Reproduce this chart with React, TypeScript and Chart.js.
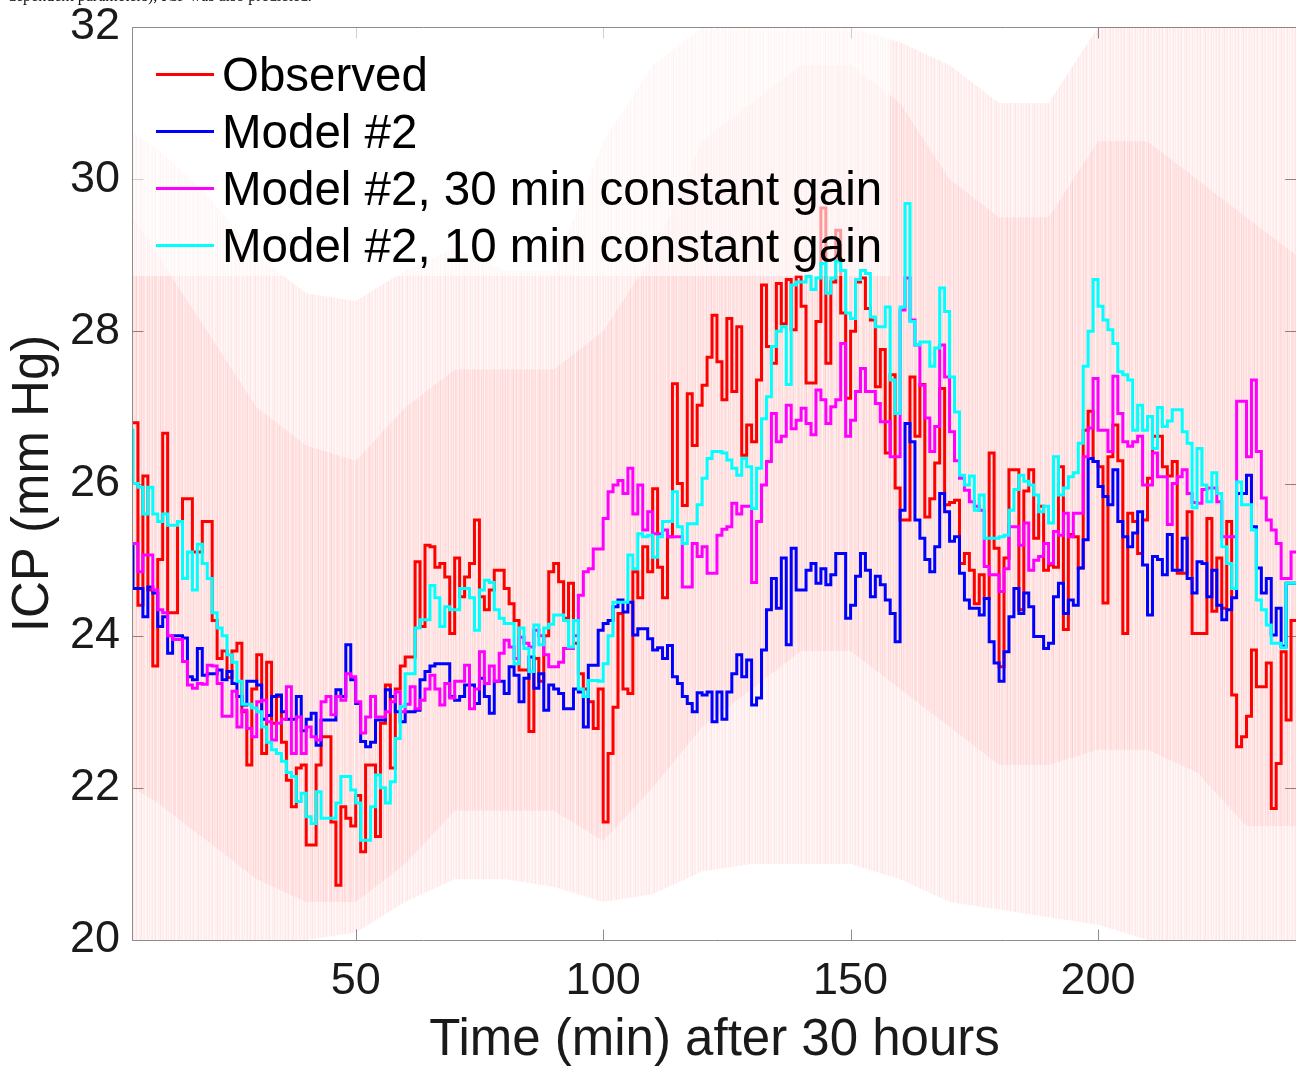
import React, { useEffect, useRef } from 'react';
import { Chart, registerables } from 'chart.js';

Chart.register(...registerables);

// ---------- data (one value per minute, first value is minute 4, last step ends at minute 240) ----------
const START_MINUTE = 4;
const END_MINUTE = 240;

const OBSERVED = [
  26.8, 26.8, 24.4, 26.1, 24.6, 23.6, 25.0, 26.66, 24.3, 24.3,
  25.5, 25.8, 25.8, 25.1, 25.1, 25.5, 25.5, 24.2, 23.7, 23.8,
  23.45, 23.8, 23.9, 23.0, 22.3, 23.3, 23.75, 22.45, 23.65, 22.85,
  23.2, 22.6, 22.1, 21.75, 22.26, 22.3, 21.25, 21.25, 22.3, 22.67,
  22.67, 21.55, 20.72, 21.75, 21.6, 21.5, 21.9, 21.16, 22.3, 22.3,
  21.36, 22.85, 23.35, 22.26, 23.3, 23.6, 23.72, 23.72, 24.97, 24.12,
  25.19, 25.17, 24.9, 24.95, 24.77, 24.03, 25.02, 24.51, 24.77, 24.95,
  25.52, 24.51, 24.34, 24.6, 24.86, 24.86, 24.62, 24.42, 24.2, 23.55,
  23.55, 22.74, 23.7, 23.4, 24.0, 24.84, 24.95, 24.71, 24.23, 24.69,
  23.9, 23.5, 23.3, 23.13, 22.78, 23.3, 21.55, 22.45, 23.06, 24.29,
  23.3, 23.24, 24.84, 24.5, 25.17, 24.84, 25.93, 24.9, 24.5, 25.3,
  27.31, 26.0, 25.71, 27.18, 26.5, 27.03, 27.29, 27.66, 28.21, 27.6,
  27.1, 28.17, 27.21, 28.06, 26.37, 26.77, 26.55, 27.36, 28.61, 27.8,
  27.58, 28.63, 28.1, 28.68, 28.02, 28.72, 28.33, 27.32, 27.32, 28.13,
  29.62, 27.58, 28.65, 29.33, 28.24, 27.12, 28.0, 28.65, 28.7, 28.3,
  28.15, 27.27, 27.76, 26.4, 27.43, 25.94, 25.52, 25.52, 27.4, 26.62,
  27.3, 25.56, 25.8, 26.27, 27.25, 25.72, 25.75, 25.78, 24.95, 25.08,
  24.86, 24.42, 24.8, 24.49, 26.4, 25.15, 23.59, 25.02, 26.18, 26.18,
  24.34, 25.9, 26.18, 25.28, 25.7, 24.86, 24.93, 24.9, 26.22, 24.08,
  25.33, 25.3, 24.89, 26.7, 26.95, 26.29, 26.22, 24.43, 26.35, 26.77,
  26.3, 24.03, 25.61, 25.5, 25.08, 25.52, 26.07, 26.62, 26.62, 26.22,
  26.1, 26.29, 24.82, 24.82, 25.63, 24.03, 24.03, 24.03, 25.54, 24.32,
  25.02, 24.36, 25.5, 23.22, 22.54, 22.67, 22.94, 23.81, 23.33, 23.33,
  23.64, 21.73, 22.32, 23.79, 22.89, 24.2,
];

const MODEL2 = [
  25.2, 24.62, 24.62, 24.25, 24.64, 24.56, 24.12, 24.25, 23.77, 24.0,
  24.0, 23.97, 23.46, 23.42, 23.83, 23.48, 23.5, 23.5, 23.55, 23.42,
  23.53, 23.37, 23.2, 23.09, 23.4, 23.4, 23.35, 22.9, 22.95, 23.2,
  23.22, 23.0, 22.9, 22.9, 23.2, 22.75, 22.9, 22.98, 22.56, 22.89,
  22.89, 22.89, 23.29, 23.2, 23.88, 23.42, 23.11, 22.61, 22.54, 22.6,
  22.89, 22.89, 23.29, 23.2, 23.0, 22.87, 23.0, 23.0, 23.02, 23.42,
  23.53, 23.6, 23.63, 23.63, 23.63, 23.2, 23.15, 23.2, 23.35, 23.35,
  23.11, 23.44, 23.2, 22.98, 23.4, 23.4, 23.24, 23.59, 23.48, 23.13,
  23.44, 23.72, 23.31, 23.5, 23.02, 23.35, 23.3, 23.24, 23.04, 23.04,
  23.3, 23.26, 22.8, 23.61, 23.61, 24.07, 24.16, 24.2, 24.38, 24.47,
  24.31, 24.44, 24.01, 24.09, 24.09, 23.96, 23.81, 23.84, 23.7, 23.87,
  23.46, 23.37, 23.2, 23.11, 23.0, 23.25, 23.22, 23.26, 22.87, 23.26,
  22.9, 23.26, 23.5, 23.75, 23.46, 23.68, 23.09, 23.18, 23.81, 24.34,
  24.75, 24.36, 25.02, 23.88, 25.15, 24.6, 24.6, 24.86, 24.95, 24.69,
  24.88, 24.67, 24.8, 25.08, 25.08, 24.23, 24.4, 24.78, 25.08, 24.86,
  24.51, 24.78, 24.67, 24.47, 24.29, 23.92, 25.65, 26.79, 26.55, 25.52,
  25.28, 25.0, 24.84, 25.17, 25.87, 25.63, 25.24, 25.3, 24.82, 24.47,
  24.36, 24.36, 24.27, 24.49, 23.92, 23.64, 23.4, 23.79, 24.25, 24.62,
  24.29, 24.56, 24.38, 23.99, 23.99, 23.83, 23.9, 24.51, 24.69, 24.29,
  24.47, 24.4, 24.89, 25.26, 26.33, 26.29, 25.96, 25.83, 25.72, 26.18,
  25.5, 25.3, 25.17, 25.35, 25.63, 24.93, 24.27, 25.04, 25.0, 24.8,
  25.33, 24.86, 24.86, 25.28, 24.75, 24.56, 24.97, 24.95, 24.51, 24.86,
  24.4, 24.21, 24.34, 24.5, 25.87, 25.87, 26.11, 25.43, 24.89, 24.56,
  24.75, 24.01, 24.36, 23.86, 24.69, 24.69,
];

const MODEL2_GAIN30 = [
  25.21, 25.21, 24.84, 25.06, 25.06, 24.6, 24.34, 24.3, 24.0, 23.95,
  23.95, 23.66, 23.35, 23.31, 23.37, 23.36, 23.61, 23.6, 23.37, 22.94,
  22.94, 23.27, 22.8, 23.02, 22.78, 22.67, 23.13, 23.15, 22.87, 22.63,
  22.85, 22.9, 23.33, 22.45, 22.93, 22.45, 22.8, 22.67, 22.63, 23.13,
  23.2, 22.96, 23.2, 23.15, 23.5, 23.46, 23.13, 22.72, 22.93, 23.2,
  22.93, 22.93, 23.0, 23.13, 23.26, 23.0, 23.1, 23.33, 23.04, 23.15,
  23.3, 23.48, 23.3, 23.09, 23.37, 23.18, 23.4, 23.4, 23.61, 23.04,
  23.3, 23.79, 23.37, 23.6, 23.4, 23.77, 23.94, 23.85, 23.7, 23.98,
  23.9, 23.85, 24.07, 24.0, 23.75, 23.59, 23.59, 23.65, 23.83, 23.83,
  24.0, 24.53, 24.84, 24.88, 25.14, 25.14, 25.54, 25.89, 25.98, 26.04,
  25.87, 26.2, 25.6, 25.98, 25.39, 25.63, 25.34, 25.34, 25.39, 25.3,
  25.3, 25.3, 24.64, 24.64, 25.21, 25.04, 25.17, 24.82, 24.82, 25.32,
  25.4, 25.43, 25.74, 25.6, 25.7, 25.7, 24.7, 25.5, 25.98, 26.29,
  26.92, 26.55, 26.62, 27.03, 26.72, 26.83, 26.99, 26.79, 26.64, 27.23,
  27.1, 26.79, 27.01, 27.1, 27.84, 26.62, 26.83, 27.21, 27.51, 27.21,
  27.21, 27.05, 26.81, 26.81, 26.35, 26.35, 28.28, 28.7, 28.15, 27.82,
  27.29, 26.86, 26.42, 26.75, 27.82, 27.4, 26.68, 26.3, 26.07, 25.91,
  25.76, 25.7, 25.65, 24.91, 24.8, 24.8, 24.58, 24.88, 25.43, 25.43,
  25.19, 25.48, 24.86, 24.99, 25.04, 25.21, 24.95, 25.37, 25.32, 25.61,
  25.3, 25.61, 25.61, 26.35, 26.73, 27.38, 26.7, 26.7, 26.42, 27.41,
  26.92, 26.55, 26.49, 26.55, 26.62, 25.98, 25.98, 26.4, 26.09, 26.09,
  25.46, 26.0, 26.09, 26.18, 25.87, 25.75, 25.74, 25.92, 25.94, 25.94,
  25.76, 25.3, 25.3, 25.3, 27.08, 27.08, 26.35, 27.36, 26.42, 25.81,
  25.52, 25.39, 25.21, 24.75, 24.75, 25.1,
];

const MODEL2_GAIN10 = [
  26.7, 26.0, 25.95, 25.6, 25.95, 25.6, 25.5, 25.6, 25.45, 25.45,
  25.5, 24.75, 25.1, 24.6, 25.2, 24.95, 24.75, 24.3, 24.1, 24.0,
  23.75, 23.65, 23.4, 23.1, 23.1, 23.05, 23.0, 22.8, 22.6, 22.5,
  22.45, 22.35, 22.2, 22.15, 21.82, 21.93, 21.62, 21.53, 21.95, 21.6,
  21.6, 21.6, 21.8, 22.15, 22.15, 21.97, 21.8, 21.31, 21.31, 21.75,
  22.17, 22.0, 21.8, 22.08, 22.65, 23.07, 23.5, 23.5, 24.1, 24.21,
  24.21, 24.66, 24.5, 24.12, 24.38, 24.34, 24.34, 24.62, 24.62, 24.5,
  24.07, 24.6, 24.73, 24.7, 24.34, 24.23, 24.16, 24.16, 23.63, 24.1,
  23.83, 23.53, 24.14, 23.88, 24.1, 24.15, 24.27, 24.27, 24.2, 23.85,
  24.2, 23.3, 23.2, 23.41, 23.41, 23.4, 23.63, 24.0, 24.44, 24.44,
  24.44, 25.06, 24.88, 25.34, 25.3, 25.32, 25.03, 25.3, 25.5, 25.5,
  25.89, 25.43, 25.21, 25.47, 25.47, 25.72, 26.07, 26.33, 26.42, 26.42,
  26.4, 26.31, 26.2, 26.11, 26.33, 26.22, 25.67, 26.2, 26.85, 27.14,
  27.8, 28.0, 28.06, 27.3, 28.61, 28.65, 28.65, 28.72, 28.55, 28.7,
  28.89, 28.5, 28.7, 28.92, 28.8, 28.24, 28.17, 28.68, 28.8, 28.76,
  28.19, 28.06, 28.06, 28.32, 27.36, 26.92, 28.32, 29.68, 28.13, 27.82,
  27.86, 27.86, 27.54, 27.78, 28.57, 28.26, 27.4, 26.94, 26.11, 25.98,
  26.1, 25.65, 25.85, 25.28, 25.28, 25.28, 25.3, 25.32, 25.65, 25.92,
  26.11, 26.03, 25.98, 25.85, 25.63, 25.7, 25.48, 26.35, 25.85, 25.94,
  26.09, 26.14, 26.53, 27.54, 28.0, 28.68, 28.33, 28.15, 28.02, 27.84,
  27.47, 27.43, 27.36, 26.7, 27.03, 26.7, 26.88, 26.46, 27.0, 26.75,
  26.82, 26.97, 26.97, 26.68, 26.53, 25.68, 26.46, 25.98, 25.76, 26.14,
  25.87, 25.17, 24.95, 24.62, 26.02, 25.72, 25.72, 25.39, 24.47, 24.34,
  24.14, 23.9, 23.9, 23.84, 24.69, 24.69,
];

// envelope of the faint raw (beat-to-beat) ICP trace drawn behind the lines
const RAW_MINUTES = [5, 10, 20, 30, 40, 50, 60, 70, 80, 90, 100, 110, 120, 130, 140, 150, 160, 170, 180, 190, 200, 210, 220, 230, 240];
const RAW_OUTER_HIGH = [30.6, 30.4, 29.8, 29.0, 28.5, 28.4, 28.8, 29.1, 28.8, 28.8, 30.5, 31.5, 32, 32, 32, 32, 31.8, 31.5, 31.0, 31.0, 32, 32, 32, 32, 32];
const RAW_OUTER_LOW = [20.0, 20.0, 20.0, 20.0, 20.0, 20.1, 20.5, 20.8, 20.8, 20.7, 20.5, 20.6, 20.9, 21.0, 21.0, 21.0, 20.8, 20.5, 20.4, 20.3, 20.2, 20.0, 20.0, 20.0, 20.0];
const RAW_INNER_HIGH = [29.5, 29.0, 28.0, 27.0, 26.5, 26.3, 27.0, 27.5, 27.5, 27.5, 28.0, 29.0, 30.5, 31.0, 31.5, 31.5, 31.0, 30.0, 29.5, 29.5, 30.5, 30.5, 30.0, 29.5, 29.0];
const RAW_INNER_LOW = [22.0, 21.8, 21.3, 20.8, 20.5, 20.5, 21.0, 21.7, 21.7, 21.7, 21.3, 22.0, 22.8, 23.3, 23.8, 23.8, 23.3, 22.8, 22.3, 22.3, 22.5, 22.5, 22.2, 21.5, 21.5];

const X_TICKS = [50, 100, 150, 200];
const Y_TICKS = [20, 22, 24, 26, 28, 30, 32];
const X_RANGE = [5, 240];
const Y_RANGE = [20, 32];

const SERIES_LABELS = ['Observed', 'Model #2', 'Model #2, 30 min constant gain', 'Model #2, 10 min constant gain'];
const SERIES_COLORS = ['#ff0000', '#0000ff', '#ff00ff', '#00ffff'];
const X_TITLE = 'Time (min) after 30 hours';
const Y_TITLE = 'ICP (mm Hg)';
const CAPTION = 'dependent parameters), ICP was also predicted.';

// ---------- styling ----------
const FONT = '"Liberation Sans", Arial, Helvetica, sans-serif';
const TEXT_COLOR = '#1a1a1a';
const AXIS_COLOR = '#8c8c8c';
const W = 1296;
const H = 1066;
// streak texture (alpha per pixel column) used to imitate the dense raw trace
const OUTER_STREAKS = [0.09, 0.03, 0.06, 0.1, 0.04, 0.02, 0.07, 0.05, 0.11, 0.03, 0.06, 0.08, 0.02, 0.05, 0.09, 0.04, 0.07, 0.03, 0.06];
const INNER_STREAKS = [0.09, 0.04, 0.06, 0.02, 0.08, 0.05, 0.1, 0.03, 0.05, 0.07, 0.04, 0.08, 0.05];

const toSteps = (vals: number[]) => {
  const pts = vals.map((y, i) => ({ x: START_MINUTE + i, y }));
  pts.push({ x: END_MINUTE, y: vals[vals.length - 1] });
  return pts;
};
const toBand = (vals: number[]) => vals.map((y, i) => ({ x: RAW_MINUTES[i], y }));

const makeStreaks = (alphas: number[]) => {
  const c = document.createElement('canvas');
  c.width = alphas.length;
  c.height = 4;
  const g = c.getContext('2d')!;
  alphas.forEach((a, i) => {
    g.fillStyle = `rgba(255,0,0,${a})`;
    g.fillRect(i, 0, 1, 4);
  });
  return g.createPattern(c, 'repeat') as CanvasPattern;
};

const CYAN_INDEX = 7;

const framePlugin = {
  id: 'matlabFrame',
  beforeDatasetsDraw(chart: any) {
    const { ctx, chartArea: a, scales } = chart;
    ctx.save();
    ctx.strokeStyle = AXIS_COLOR;
    ctx.lineWidth = 1;
    ctx.beginPath();
    const L = a.left - 0.5, T = a.top + 0.5, B = a.bottom + 0.5, R = a.right + 0.5;
    ctx.moveTo(L, B); ctx.lineTo(L, T); ctx.lineTo(R, T);
    ctx.moveTo(L, B); ctx.lineTo(R, B);
    const tl = 11;
    X_TICKS.forEach((v) => {
      const x = Math.round(scales.x.getPixelForValue(v)) + 0.5;
      ctx.moveTo(x, B); ctx.lineTo(x, B - tl);
      ctx.moveTo(x, T); ctx.lineTo(x, T + tl);
    });
    Y_TICKS.forEach((v) => {
      const y = Math.round(scales.y.getPixelForValue(v)) + 0.5;
      ctx.moveTo(L, y); ctx.lineTo(L + tl, y);
      ctx.moveTo(a.right, y); ctx.lineTo(a.right - tl, y);
    });
    ctx.stroke();
    ctx.restore();
  },
};

const legendPlugin = {
  id: 'insideLegend',
  beforeDatasetDraw(chart: any, args: any) {
    if (args.index !== CYAN_INDEX) return;
    const { ctx, chartArea: a } = chart;
    ctx.save();
    ctx.fillStyle = 'rgba(255,255,255,0.6)';
    ctx.fillRect(a.left, a.top + 1, 757, 248);
    ctx.restore();
  },
  afterDatasetsDraw(chart: any) {
    const { ctx } = chart;
    ctx.save();
    ctx.font = `47.5px ${FONT}`;
    ctx.textBaseline = 'alphabetic';
    ctx.textAlign = 'left';
    SERIES_LABELS.forEach((label, i) => {
      const y = 74.5 + i * 57;
      ctx.strokeStyle = SERIES_COLORS[i];
      ctx.lineWidth = 3;
      ctx.beginPath();
      ctx.moveTo(156, y);
      ctx.lineTo(214, y);
      ctx.stroke();
      ctx.fillStyle = '#000';
      ctx.fillText(label, 222, y + 16.5);
    });
    ctx.restore();
  },
};

export default function App() {
  const ref = useRef<HTMLCanvasElement | null>(null);

  useEffect(() => {
    const canvas = ref.current;
    if (!canvas) return;
    const line = (i: number, vals: number[], order: number) => ({
      label: SERIES_LABELS[i],
      data: toSteps(vals),
      borderColor: SERIES_COLORS[i],
      backgroundColor: SERIES_COLORS[i],
      borderWidth: 3,
      pointRadius: 0,
      stepped: 'before' as const,
      fill: false,
      order,
    });
    const band = (vals: number[], fill: any, color: any, order: number) => ({
      label: '',
      data: toBand(vals),
      borderWidth: 0,
      borderColor: 'rgba(0,0,0,0)',
      backgroundColor: color,
      pointRadius: 0,
      fill,
      order,
      tension: 0,
    });
    const outerFill = makeStreaks(OUTER_STREAKS);
    const innerFill = makeStreaks(INNER_STREAKS);
    const chart = new Chart(canvas, {
      type: 'line',
      data: {
        datasets: [
          band(RAW_OUTER_HIGH, '+1', outerFill, 21),
          band(RAW_OUTER_LOW, false, 'rgba(0,0,0,0)', 22),
          band(RAW_INNER_HIGH, '+1', innerFill, 19),
          band(RAW_INNER_LOW, false, 'rgba(0,0,0,0)', 20),
          line(0, OBSERVED, 4),
          line(1, MODEL2, 3),
          line(2, MODEL2_GAIN30, 2),
          line(3, MODEL2_GAIN10, 1),
        ] as any,
      },
      options: {
        animation: false,
        responsive: false,
        maintainAspectRatio: false,
        events: [],
        layout: { padding: { top: 27, right: 0, left: 0, bottom: 0 } },
        plugins: {
          legend: { display: false },
          tooltip: { enabled: false },
        },
        scales: {
          x: {
            type: 'linear',
            min: X_RANGE[0],
            max: X_RANGE[1],
            grid: { display: false, drawTicks: false },
            border: { display: false },
            ticks: {
              color: TEXT_COLOR,
              font: { family: FONT, size: 45 },
              padding: 15,
              maxRotation: 0,
              autoSkip: false,
            },
            afterBuildTicks: (s: any) => {
              s.ticks = X_TICKS.map((v) => ({ value: v }));
            },
            afterFit: (s: any) => {
              s.height = 126;
              s.paddingLeft = 0;
              s.paddingRight = 0;
            },
            title: {
              display: true,
              text: X_TITLE,
              color: TEXT_COLOR,
              font: { family: FONT, size: 51, lineHeight: 1 },
              padding: { top: 0, bottom: 0 },
            },
          },
          y: {
            type: 'linear',
            min: Y_RANGE[0],
            max: Y_RANGE[1],
            grid: { display: false, drawTicks: false },
            border: { display: false },
            ticks: {
              color: TEXT_COLOR,
              font: { family: FONT, size: 45 },
              padding: 13,
            },
            afterBuildTicks: (s: any) => {
              s.ticks = Y_TICKS.map((v) => ({ value: v }));
            },
            afterFit: (s: any) => {
              s.width = 133;
              s.paddingTop = 0;
              s.paddingBottom = 0;
            },
            title: {
              display: true,
              text: Y_TITLE,
              color: TEXT_COLOR,
              font: { family: FONT, size: 51, lineHeight: 1 },
              padding: { top: 8, bottom: 0 },
            },
          },
        },
      } as any,
      plugins: [framePlugin, legendPlugin],
    });
    return () => chart.destroy();
  }, []);

  return (
    <div style={{ position: 'absolute', left: 0, top: 0, width: W, height: H, overflow: 'hidden', background: '#fff' }}>
      <canvas ref={ref} width={W} height={H} style={{ position: 'absolute', left: 0, top: 0, width: W, height: H }} />
      <div
        style={{
          position: 'absolute',
          left: 8,
          top: -13,
          fontFamily: '"Liberation Serif", "Times New Roman", serif',
          fontSize: 16,
          color: '#111',
          whiteSpace: 'nowrap',
        }}
      >
        {CAPTION}
      </div>
    </div>
  );
}
